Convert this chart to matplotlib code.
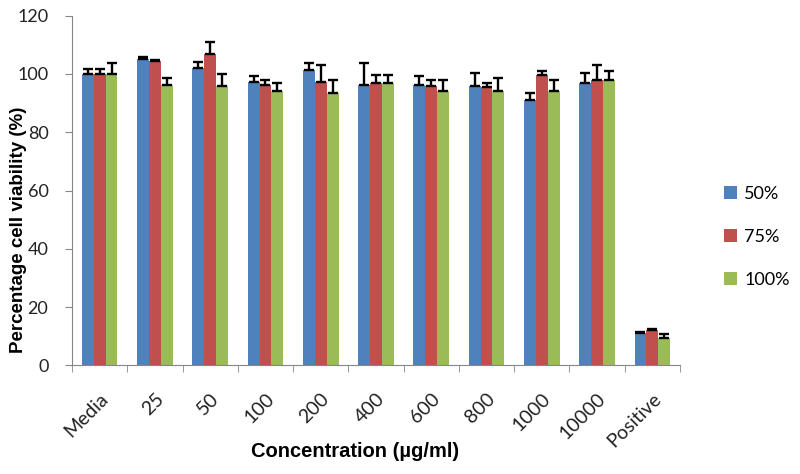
import matplotlib
matplotlib.use("Agg")
import matplotlib.pyplot as plt
import numpy as np

plt.rcParams['font.family'] = ['Lato', 'DejaVu Sans']

categories = ["Media", "25", "50", "100", "200", "400", "600", "800", "1000", "10000", "Positive"]
series_names = ["50%", "75%", "100%"]

# mean values
v50 = [100.0, 105.2, 102.2, 97.4, 101.5, 96.3, 96.3, 95.7, 91.0, 96.9, 11.0]
v75 = [100.0, 104.4, 107.0, 96.3, 97.4, 96.9, 95.7, 95.5, 99.8, 97.8, 12.0]
v100 = [100.0, 96.3, 95.7, 94.0, 93.4, 96.9, 94.3, 94.0, 94.3, 98.0, 9.4]

# upper error bars
e50 = [1.6, 0.6, 1.8, 1.8, 2.3, 7.5, 2.9, 4.7, 2.3, 3.5, 0.5]
e75 = [1.6, 0.3, 4.0, 1.5, 5.8, 2.9, 2.1, 1.4, 1.1, 5.4, 0.4]
e100 = [3.8, 2.3, 4.2, 2.9, 4.4, 2.9, 3.5, 4.6, 3.7, 2.9, 1.5]

colors = ["#4F81BD", "#C0504D", "#9BBB59"]

fig = plt.figure(figsize=(8, 4.74), dpi=100)
ax = fig.add_axes([0.09, 0.229, 0.76, 0.738])

x = np.arange(len(categories))
w = 0.215
for i, (vals, errs) in enumerate(zip([v50, v75, v100], [e50, e75, e100])):
    errs = np.array(errs)
    ax.bar(x + (i - 1) * w, vals, w, color=colors[i], label=series_names[i],
           yerr=[np.zeros_like(errs), errs],
           error_kw=dict(ecolor="black", elinewidth=1.7, capsize=3.8, capthick=1.7),
           zorder=2)

ax.set_xlim(-0.5, len(categories) - 0.5)
ax.set_ylim(0, 120)
ax.set_yticks(np.arange(0, 121, 20))
ax.tick_params(axis='y', labelsize=13, length=5, color="#868686", pad=12,
               labelcolor="#222222")

ax.set_xticks(x)
ax.set_xticklabels(categories, rotation=45, ha='right', rotation_mode='anchor',
                   fontsize=14, color="#222222")
ax.tick_params(axis='x', length=0, pad=18)
ax.set_xticks(np.arange(-0.5, len(categories), 1), minor=True)
ax.tick_params(axis='x', which='minor', length=5, color="#868686")

for s in ["top", "right"]:
    ax.spines[s].set_visible(False)
for s in ["left", "bottom"]:
    ax.spines[s].set_color("#868686")

ax.set_ylabel("Percentage cell viability (%)", fontsize=13.5, fontweight='bold',
              family=['Liberation Sans', 'DejaVu Sans'])
ax.yaxis.set_label_coords(-0.074, 0.387)
ax.set_xlabel("Concentration (µg/ml)", fontsize=14.5, fontweight='bold',
              family=['Liberation Sans', 'DejaVu Sans'])
ax.xaxis.set_label_coords(0.466, -0.219)

fig.legend(loc='center left', bbox_to_anchor=(0.885, 0.50), frameon=False,
           fontsize=13, handlelength=0.72, handleheight=0.72, handletextpad=0.4,
           labelspacing=1.5)

fig.savefig("out.png", dpi=100)
